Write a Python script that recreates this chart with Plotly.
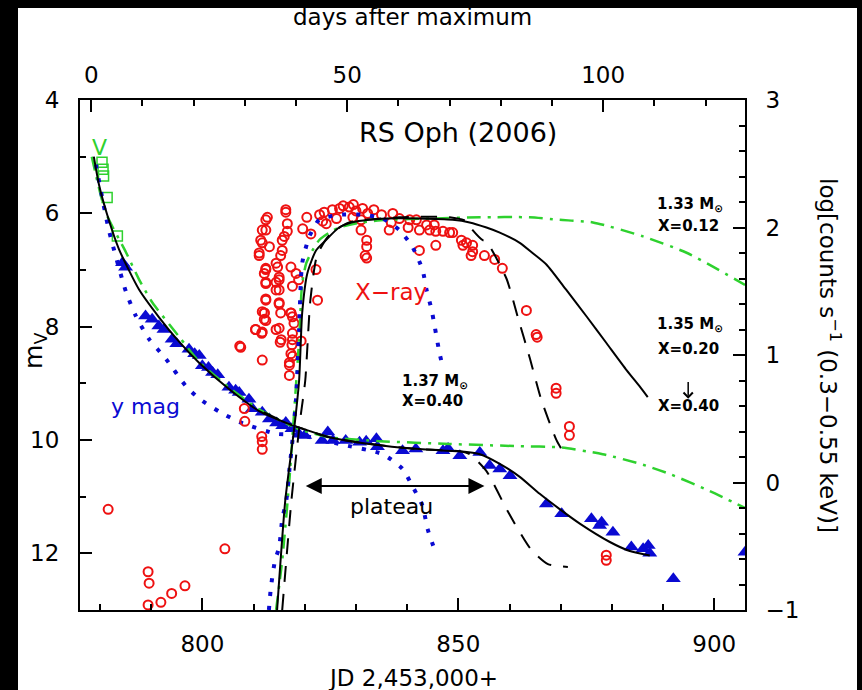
import plotly.graph_objects as go

FONT = "DejaVu Sans"
T0 = 778.3  # JD of maximum (days after maximum = JD - T0)

# ---------------- data ----------------
# V magnitude (green open squares)
v_jd = [780.4, 780.6, 780.7, 781.4, 783.4]
v_mag = [5.10, 5.22, 5.34, 5.72, 6.40]

# y magnitude (blue filled triangles)
y_jd = [784.4, 785.0, 788.9, 790.2, 791.5, 792.5, 794.1, 795.0, 797.4, 798.5, 799.4,
        800.0, 801.2, 802.0, 803.0, 805.2, 806.5, 807.2, 809.1, 809.8, 811.7, 813.1,
        814.5, 815.7, 816.3, 817.5, 818.9, 820.0, 823.4, 824.5, 825.5, 828.0, 830.7,
        832.0, 834.0, 834.2, 839.1, 841.7, 847.0, 848.0, 850.3, 854.2, 856.1, 858.1,
        860.1, 867.2, 870.2, 876.0, 877.6, 878.0, 880.2, 883.8, 886.1, 887.1, 887.4,
        892.0, 906.0]
y_mag = [6.87, 6.95, 7.81, 7.87, 7.99, 8.05, 8.22, 8.30, 8.40, 8.48, 8.51,
         8.69, 8.72, 8.81, 8.85, 9.07, 9.12, 9.16, 9.28, 9.45, 9.51, 9.63,
         9.70, 9.75, 9.69, 9.80, 9.90, 9.92, 10.01, 9.86, 10.01, 10.01, 10.04,
         10.02, 9.98, 10.12, 10.19, 10.16, 10.19, 10.15, 10.28, 10.22, 10.45, 10.51,
         10.63, 11.13, 11.30, 11.39, 11.51, 11.45, 11.63, 11.89, 11.92, 11.86, 12.00,
         12.45, 11.98]

# X-ray count rate (red open circles), log counts s^-1
xr_jd = [781.6, 804.4, 789.4, 789.6, 789.4, 791.9, 794.0, 796.6,
         808.2, 808.3, 811.6, 811.7, 811.7,
         807.3, 811.7, 810.4, 811.6, 812.1, 812.4, 815.0, 815.2, 817.3, 817.9, 817.6,
         817.5, 817.3, 817.0, 817.0, 819.3,
         812.4, 811.7, 811.4, 813.1, 811.1, 816.3, 816.6, 816.6, 815.6, 815.3,
         820.4, 819.6, 821.2, 812.4, 812.1, 812.4, 812.4, 811.7, 814.7, 815.0,
         814.4, 815.0, 815.3, 817.3, 818.3, 817.6, 818.8, 817.3, 822.2, 822.5,
         812.7, 812.4, 811.7, 811.1, 812.4, 814.4, 812.4, 812.4, 812.1, 812.1,
         810.4, 811.7, 807.5, 816.3, 816.0, 815.6, 814.4, 815.0, 815.0, 815.0,
         814.4, 815.4, 817.6, 817.6, 817.6, 817.0,
         822.9, 823.5, 823.8, 825.4, 826.8, 827.5, 828.7, 829.5, 830.0, 831.3, 832.3,
         833.5, 835.0, 824.2, 826.2, 829.4, 831.0, 831.0, 832.1, 832.1, 831.8, 832.1,
         837.2, 836.9, 836.5, 838.5, 840.5, 840.2, 841.8, 842.4, 843.8, 844.4, 845.3,
         845.6, 845.6, 842.4, 847.0, 848.3, 848.9, 850.6, 851.6, 850.9, 852.8, 852.8,
         852.5, 855.1, 857.1, 858.6, 863.3, 865.2, 865.4, 869.1, 869.1, 871.7,
         871.7, 878.9, 878.9]
xr_log = [-0.21, -0.52, -0.70, -0.79, -0.96, -0.94, -0.87, -0.81,
          0.58, 0.48, 0.36, 0.32, 0.26,
          1.07, 0.96, 1.20, 1.17, 1.33, 1.27, 1.21, 1.10, 1.33, 1.25, 1.17,
          1.08, 1.01, 0.92, 0.84, 1.11,
          2.06, 1.98, 1.90, 1.85, 1.78, 2.12, 2.03, 1.97, 1.90, 1.78,
          2.08, 1.99, 1.95, 1.68, 1.64, 1.56, 1.44, 1.34, 1.69, 1.59,
          1.51, 1.41, 1.33, 1.69, 1.64, 1.54, 1.59, 1.33, 1.67, 1.43,
          2.08, 1.98, 1.88, 1.80, 1.67, 1.57, 1.57, 1.43, 1.33, 1.28,
          1.20, 1.18, 1.06, 2.14, 1.93, 1.82, 1.72, 1.61, 1.51, 1.40,
          1.20, 1.12, 1.30, 1.12, 0.99, 0.94,
          2.10, 2.05, 2.12, 2.14, 2.15, 2.17, 2.16, 2.18, 2.13, 2.15, 2.11,
          2.14, 2.10, 2.03, 2.07, 2.08, 2.06, 1.98, 1.90, 1.85, 1.78, 1.76,
          2.11, 2.04, 1.98, 2.07, 2.06, 2.00, 2.06, 1.98, 2.02, 1.98, 2.02,
          1.97, 1.86, 1.82, 1.97, 1.96, 1.96, 1.90, 1.88, 1.86, 1.86, 1.81,
          1.78, 1.78, 1.75, 1.68, 1.35, 1.16, 1.14, 0.74, 0.70, 0.44,
          0.37, -0.57, -0.61]

# Model: 1.35 Msun, X=0.20 (black solid)
m135_opt_jd = [778.8, 779.8, 781.4, 783.7, 787.6, 791.5, 795.4, 799.4, 805.2, 811.1,
               817.0, 819.9, 824.8, 832.6, 842.4, 850.2, 854.2, 858.1, 862.0, 865.9,
               869.8, 873.8, 879.6, 883.5, 887.4]
m135_opt_mag = [5.00, 5.49, 6.02, 6.63, 7.34, 7.83, 8.26, 8.64, 9.10, 9.49,
                9.72, 9.81, 9.95, 10.07, 10.16, 10.20, 10.25, 10.42, 10.65, 10.95,
                11.22, 11.48, 11.80, 11.96, 12.04]
m135_x_jd = [814.6, 816.2, 817.9, 818.9, 819.5, 820.5, 822.2, 824.1, 826.7, 829.3,
             832.6, 835.9, 842.4, 848.9, 852.2, 855.5, 858.1, 862.0, 864.5, 867.2,
             871.1, 875.1, 879.0, 882.9, 885.5, 887.0]
m135_x_log = [-1.00, -0.14, 0.41, 0.80, 1.33, 1.64, 1.82, 1.90, 2.00, 2.04,
              2.06, 2.07, 2.07, 2.06, 2.04, 2.00, 1.96, 1.88, 1.80, 1.71,
              1.51, 1.30, 1.09, 0.88, 0.75, 0.67]

# Model: 1.35 Msun, X=0.40 (black dashed)
m135b_opt_jd = [812.0, 817.0, 824.8, 832.6, 842.4, 850.2, 852.2, 855.5, 859.6, 864.1,
                867.5, 871.4]
m135b_opt_mag = [9.51, 9.72, 9.95, 10.07, 10.16, 10.20, 10.25, 10.55, 11.25, 11.92,
                 12.19, 12.24]
m135b_x_jd = [815.6, 817.4, 819.1, 820.1, 821.1, 822.4, 824.8, 828.7, 838.5, 848.3,
              851.5, 852.8, 854.8, 855.5, 859.4, 861.6, 864.0, 866.2, 869.2, 870.8]
m135b_x_log = [-1.00, -0.14, 0.49, 0.80, 1.43, 1.78, 1.94, 2.04, 2.08, 2.08,
               2.05, 1.98, 1.90, 1.89, 1.60, 1.30, 0.97, 0.65, 0.33, 0.22]

# Model: 1.33 Msun, X=0.12 (green dash-dot)
m133_opt_jd = [778.4, 781.1, 785.1, 787.6, 790.2, 795.4, 799.4, 805.2, 811.1, 818.9,
               824.8, 834.6, 848.3, 862.0, 869.8, 878.2, 885.5, 891.3, 899.1, 906.0]
m133_opt_mag = [5.00, 5.98, 6.69, 7.16, 7.57, 8.17, 8.62, 9.07, 9.46, 9.81,
                9.95, 10.02, 10.07, 10.11, 10.13, 10.25, 10.42, 10.60, 10.90, 11.20]
m133_x_jd = [814.4, 815.6, 817.0, 818.1, 818.9, 819.5, 820.3, 821.5, 822.8, 824.8,
             826.7, 831.2, 835.9, 844.4, 854.2, 863.9, 869.8, 876.3, 886.1, 894.7, 906.0]
m133_x_log = [-1.00, -0.61, 0.02, 0.65, 1.12, 1.56, 1.72, 1.82, 1.90, 1.96,
              2.00, 2.04, 2.06, 2.07, 2.08, 2.08, 2.06, 2.04, 1.93, 1.80, 1.55]

# Model: 1.37 Msun, X=0.40 (blue dotted)
m137_opt_jd = [779.2, 781.7, 785.1, 787.0, 789.6, 792.9, 796.8, 799.4, 803.3, 807.2,
               814.4, 818.9, 826.7, 835.2, 839.1, 841.0, 843.0, 844.0, 845.3]
m137_opt_mag = [5.14, 6.28, 7.39, 7.81, 8.22, 8.57, 9.05, 9.27, 9.50, 9.68,
                9.89, 9.91, 10.07, 10.25, 10.51, 10.81, 11.16, 11.57, 11.92]
m137_x_jd = [813.0, 813.4, 814.2, 815.0, 815.6, 816.4, 817.0, 817.6, 818.3, 818.9,
             819.5, 820.9, 822.8, 826.7, 831.2, 835.2, 838.5, 841.0, 843.0, 843.8,
             844.8, 846.3, 846.7]
m137_x_log = [-1.00, -0.82, -0.61, -0.51, -0.29, -0.14, 0.10, 0.33, 0.65, 1.20,
              1.72, 1.93, 2.06, 2.10, 2.10, 2.07, 1.98, 1.85, 1.67, 1.51,
              1.35, 1.02, 0.95]

# axis ranges / ticks
JD_RANGE = [776.1, 906.0]
MAG_RANGE = [13, 4]
LOG_RANGE = [-1, 3]

# ---------------- figure ----------------
GREEN = "#2ed12e"
BLUE = "#0a0ad2"
RED = "#ee1111"

fig = go.Figure()

def line(x, y, color, dash, width, yaxis="y"):
    fig.add_trace(go.Scatter(x=x, y=y, mode="lines", yaxis=yaxis, hoverinfo="skip",
                             line=dict(color=color, dash=dash, width=width, shape="spline",
                                       smoothing=0.6)))

# X-ray data
fig.add_trace(go.Scatter(x=xr_jd, y=xr_log, mode="markers", yaxis="y2",
                         marker=dict(symbol="circle-open", size=9, color=RED,
                                     line=dict(width=2, color=RED))))
# triangles
fig.add_trace(go.Scatter(x=y_jd, y=y_mag, mode="markers",
                         marker=dict(symbol="triangle-up", size=13, color=BLUE)))
# V squares
fig.add_trace(go.Scatter(x=v_jd, y=v_mag, mode="markers",
                         marker=dict(symbol="square-open", size=10, color=GREEN,
                                     line=dict(width=1.5, color=GREEN))))

# models
line(m133_opt_jd, m133_opt_mag, GREEN, "14px,7px,3px,7px", 2.5)
line(m133_x_jd, m133_x_log, GREEN, "14px,7px,3px,7px", 2.5, "y2")
line(m137_opt_jd, m137_opt_mag, BLUE, "4px,10px", 4)
line(m137_x_jd, m137_x_log, BLUE, "4px,10px", 4, "y2")
line(m135b_opt_jd, m135b_opt_mag, "black", "16px,12px", 2)
line(m135b_x_jd, m135b_x_log, "black", "16px,12px", 2, "y2")
line(m135_opt_jd, m135_opt_mag, "black", "solid", 2)
line(m135_x_jd, m135_x_log, "black", "solid", 2, "y2")

# invisible trace to activate top axis
fig.add_trace(go.Scatter(x=[JD_RANGE[0] - T0], y=[None], xaxis="x2", mode="markers",
                         showlegend=False, hoverinfo="skip"))

tickfont = dict(family=FONT, size=23, color="black")
common = dict(showline=True, linecolor="black", linewidth=2, ticks="inside",
              ticklen=12, tickwidth=2, tickcolor="black", showgrid=False,
              zeroline=False, tickfont=tickfont)

fig.update_layout(
    width=862, height=690,
    margin=dict(l=80, r=117, t=100, b=80),
    paper_bgcolor="white", plot_bgcolor="white",
    showlegend=False,
    font=dict(family=FONT, color="black"),
    xaxis=dict(range=JD_RANGE, tickvals=[800, 850, 900], ticklabelstandoff=12,
               minor=dict(dtick=10, tick0=800, ticks="inside", ticklen=6, tickwidth=2,
                          tickcolor="black"), **common),
    xaxis2=dict(range=[JD_RANGE[0] - T0, JD_RANGE[1] - T0], overlaying="x", side="top",
                tickvals=[0, 50, 100], ticklabelstandoff=6,
                minor=dict(dtick=10, tick0=0, ticks="inside", ticklen=6, tickwidth=2,
                           tickcolor="black"), **common),
    yaxis=dict(range=MAG_RANGE, tickvals=[4, 6, 8, 10, 12], ticklabelstandoff=14,
               minor=dict(dtick=1, tick0=4, ticks="inside", ticklen=6, tickwidth=2,
                          tickcolor="black"), **common),
    yaxis2=dict(range=LOG_RANGE, overlaying="y", side="right", tickvals=[-1, 0, 1, 2, 3],
                ticklabelstandoff=14,
                minor=dict(dtick=0.2, tick0=-1, ticks="inside", ticklen=6, tickwidth=2,
                           tickcolor="black"), **common),
)

ann = []
def txt(x, y, s, size=22, color="black", xref="x", yref="y", angle=0, bold=False):
    ann.append(dict(x=x, y=y, xref=xref, yref=yref, text=("<b>%s</b>" % s) if bold else s,
                    showarrow=False, textangle=angle, xanchor="center", yanchor="middle",
                    font=dict(family=FONT, size=size, color=color)))

# outer labels
txt(0.5, 1.0 + 83 / 510, "days after maximum", 23, xref="paper", yref="paper")
txt(0.5, -68 / 510, "JD 2,453,000+", 23, xref="paper", yref="paper")
txt(-45 / 665, 0.508, "m<sub>V</sub>", 25, xref="paper", yref="paper", angle=-90)
txt(1.0 + 85 / 665, 0.50, "log[counts s<sup>−1</sup> (0.3−0.55 keV)]", 23,
    xref="paper", yref="paper", angle=90)

# inner labels
txt(850.0, 4.57, "RS Oph (2006)", 27)
txt(779.9, 4.84, "V", 22, GREEN)
txt(788.9, 9.40, "y mag", 22, BLUE)
txt(836.9, 7.39, "X−ray", 23, RED)
txt(837.0, 11.18, "plateau", 22)
txt(845.5, 8.96, "1.37 M<sub>⊙</sub>", 15, bold=True)
txt(845.0, 9.31, "X=0.40", 15, bold=True)
txt(895.3, 5.84, "1.33 M<sub>⊙</sub>", 15, bold=True)
txt(895.0, 6.23, "X=0.12", 15, bold=True)
txt(895.3, 7.96, "1.35 M<sub>⊙</sub>", 15, bold=True)
txt(895.0, 8.40, "X=0.20", 15, bold=True)
txt(895.0, 9.40, "X=0.40", 15, bold=True)

# arrows
ann.append(dict(x=855.1, y=10.81, ax=819.9, ay=10.81, xref="x", yref="y", axref="x",
                ayref="y", text="", showarrow=True, arrowside="end+start", arrowhead=2,
                arrowsize=1.6, arrowwidth=2, arrowcolor="black"))
ann.append(dict(x=894.9, y=9.27, ax=894.9, ay=8.95, xref="x", yref="y", axref="x",
                ayref="y", text="", showarrow=True, arrowhead=4, arrowsize=1.2,
                arrowwidth=1.5, arrowcolor="black"))
fig.update_layout(annotations=ann)

# black frame bands of the picture
def band(x0, x1, y0, y1):
    return dict(type="rect", xref="paper", yref="paper", x0=x0, x1=x1, y0=y0, y1=y1,
                fillcolor="black", line=dict(width=0), layer="above")
fig.update_layout(shapes=[
    band(-80 / 665, -62 / 665, -80 / 510, 610 / 510),
    band(777 / 665, 782 / 665, -80 / 510, 610 / 510),
    band(-80 / 665, 782 / 665, 602 / 510, 610 / 510),
])

fig.write_html("out.html", config={"displayModeBar": False},
               post_script="document.body.style.margin='0';"
                           "document.body.style.overflow='hidden';")
